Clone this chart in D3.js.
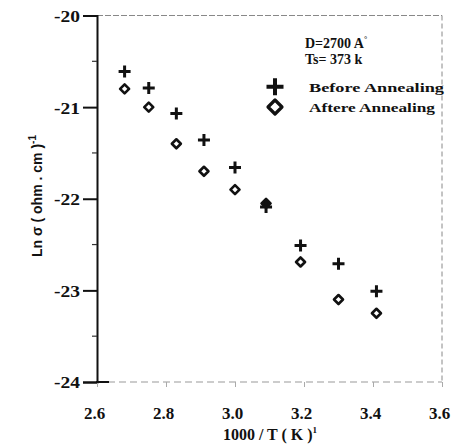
<!DOCTYPE html>
<html>
<head>
<meta charset="utf-8">
<script src="https://cdn.jsdelivr.net/npm/d3@7"></script>
<style>
  body { margin: 0; background: #fff; }
  svg text { font-family: "Liberation Serif", "Times New Roman", serif; font-weight: bold; fill: #111; }
</style>
</head>
<body>
<svg id="chart" width="453" height="444"></svg>
<script>
// data
var xBefore = [2.68, 2.75, 2.83, 2.91, 3.00, 3.09, 3.19, 3.30, 3.41];
var yBefore = [-20.61, -20.79, -21.07, -21.36, -21.66, -22.09, -22.51, -22.71, -23.01];
var xAfter = [2.68, 2.75, 2.83, 2.91, 3.00, 3.09, 3.19, 3.30, 3.41];
var yAfter = [-20.80, -21.00, -21.40, -21.70, -21.90, -22.05, -22.69, -23.10, -23.25];
var xTicks = [2.6, 2.8, 3.0, 3.2, 3.4, 3.6];
var yTicks = [-20, -21, -22, -23, -24];
var legendLabels = ["Before  Annealing", "Aftere Annealing"];

var svg = d3.select("#chart");
var pLeft = 97, pRight = 442, pTop = 15.5, pBottom = 382;
var serif = "'Liberation Serif', 'Times New Roman', serif";

var x = d3.scaleLinear().domain([2.6, 3.6]).range([pLeft, pRight]);
var y = d3.scaleLinear().domain([-24, -20]).range([pBottom, pTop]);

// frame: top, right and bottom are faint dotted lines in the scan
svg.append("line").attr("x1", pLeft).attr("x2", pRight).attr("y1", pTop).attr("y2", pTop)
  .attr("stroke", "#888").attr("stroke-width", 1.2).attr("stroke-dasharray", "6,2");
svg.append("line").attr("x1", pRight).attr("x2", pRight).attr("y1", pTop).attr("y2", pBottom)
  .attr("stroke", "#888").attr("stroke-width", 1).attr("stroke-dasharray", "5,3");
svg.append("line").attr("x1", pLeft).attr("x2", pRight).attr("y1", pBottom).attr("y2", pBottom)
  .attr("stroke", "#999").attr("stroke-width", 1).attr("stroke-dasharray", "7,4");

// y axis (solid)
var yAxis = d3.axisLeft(y).tickValues(yTicks).tickSize(14).tickPadding(3).tickFormat(d3.format("d"));
var gy = svg.append("g").attr("transform", "translate(" + pLeft + ",0)").call(yAxis);
gy.select(".domain").attr("stroke", "#111").attr("stroke-width", 2);
gy.selectAll(".tick line").attr("stroke", "#111").attr("stroke-width", 2);
gy.selectAll(".tick text").style("font-family", serif).style("font-weight", "bold").style("font-size", "17px")
  .attr("fill", "#111").attr("dy", "0.35em")
  .text(function (d) { return "-" + Math.abs(d); })
  .attr("textLength", 26).attr("lengthAdjust", "spacingAndGlyphs");
// minor y ticks
svg.selectAll(".ymin").data(d3.range(-23.5, -20, 1)).enter().append("line")
  .attr("x1", pLeft - 5).attr("x2", pLeft).attr("y1", function (d) { return y(d); }).attr("y2", function (d) { return y(d); })
  .attr("stroke", "#333").attr("stroke-width", 1.2);

// x axis tick labels and faint ticks
var xAxis = d3.axisBottom(x).tickValues(xTicks).tickSize(5).tickPadding(20).tickFormat(d3.format(".1f"));
var gx = svg.append("g").attr("transform", "translate(0," + pBottom + ")").call(xAxis);
gx.select(".domain").remove();
gx.selectAll(".tick line").attr("stroke", "#aaa").attr("stroke-width", 1);
gx.selectAll(".tick text").style("font-family", serif).style("font-weight", "bold").style("font-size", "17px")
  .attr("fill", "#111").attr("dx", "-3");
// short solid stub of bottom axis near the corner
svg.append("line").attr("x1", pLeft - 1).attr("x2", pLeft + 12).attr("y1", pBottom).attr("y2", pBottom)
  .attr("stroke", "#111").attr("stroke-width", 2);

// axis titles
svg.append("text").attr("x", 270).attr("y", 440).attr("text-anchor", "middle")
  .style("font-size", "16px")
  .html('1000 / T ( K )<tspan dy="-7" style="font-size:9px">1</tspan>');

svg.append("text").attr("transform", "translate(42,196) rotate(-90)").attr("text-anchor", "middle")
  .style("font-family", "'Liberation Sans', Arial, sans-serif").style("font-size", "14px")
  .html('Ln σ ( ohm . cm )<tspan dy="-6" style="font-size:10px">-1</tspan>');

// markers
function plus(g, cx, cy, s, w) {
  g.append("path").attr("d", "M" + (cx - s) + "," + cy + "H" + (cx + s) + "M" + cx + "," + (cy - s) + "V" + (cy + s))
    .attr("stroke", "#111").attr("stroke-width", w).attr("fill", "none");
}
function diamond(g, cx, cy, s, w, fill) {
  g.append("path").attr("d", "M" + cx + "," + (cy - s) + "L" + (cx + s) + "," + cy + "L" + cx + "," + (cy + s) + "L" + (cx - s) + "," + cy + "Z")
    .attr("stroke", "#111").attr("stroke-width", w).attr("fill", fill || "none").attr("stroke-linejoin", "round");
}

var gm = svg.append("g");
xAfter.forEach(function (v, i) {
  diamond(gm, x(v), y(yAfter[i]), 4.5, 2.6, Math.abs(yAfter[i] - yBefore[i]) < 0.1 ? "#111" : null);
});
xBefore.forEach(function (v, i) {
  plus(gm, x(v), y(yBefore[i]), 6, 3);
});

// annotation + legend
svg.append("text").attr("x", 305).attr("y", 48).style("font-size", "14px")
  .html('D=2700 A<tspan dy="-6" style="font-size:8px">°</tspan>');
svg.append("text").attr("x", 305).attr("y", 64).style("font-size", "14px").text("Ts= 373 k");

plus(svg, 275, 86.7, 8.5, 4);
diamond(svg, 275, 107, 7, 3.2);
svg.append("text").attr("x", 309).attr("y", 92).style("font-size", "13px")
  .attr("textLength", 135).attr("lengthAdjust", "spacingAndGlyphs").text(legendLabels[0]);
svg.append("text").attr("x", 309).attr("y", 112).style("font-size", "13px")
  .attr("textLength", 126).attr("lengthAdjust", "spacingAndGlyphs").text(legendLabels[1]);
</script>
</body>
</html>
